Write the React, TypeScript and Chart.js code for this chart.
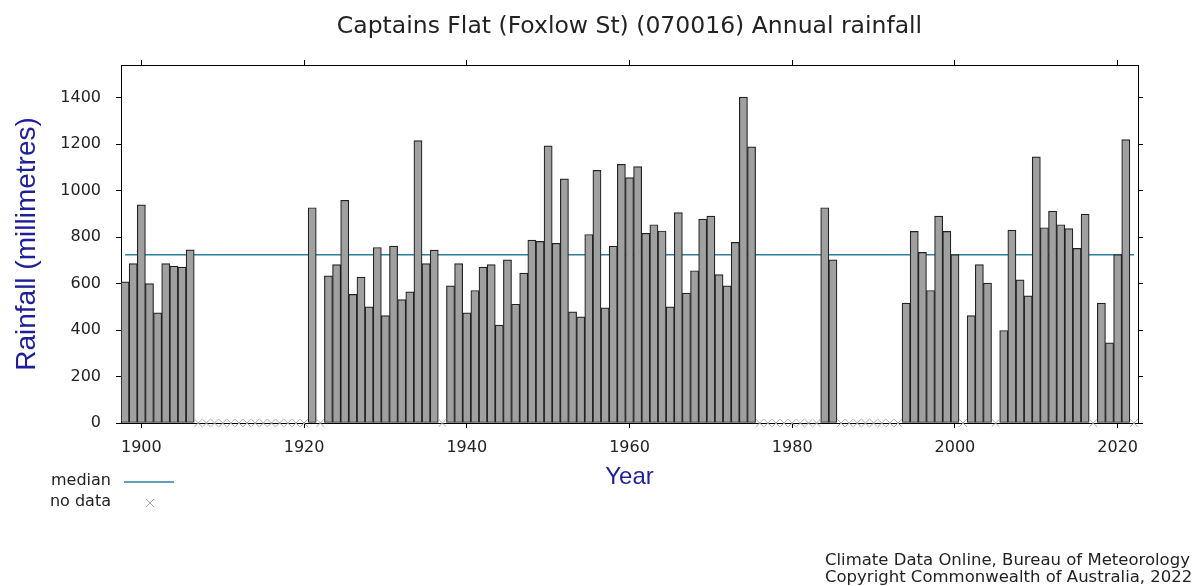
import React, { useEffect, useRef } from "react";
import { Chart, registerables } from "chart.js";

Chart.register(...registerables);

const years: number[] = Array.from({ length: 125 }, (_, i) => 1898 + i);

const rainfall: (number | null)[] = [
  607, 686, 938, 600, 474, 686, 675, 671, 745,
  null, null, null, null, null, null, null, null, null, null, null, null, null, null,
  926, null,
  633, 681, 958, 553, 628, 500, 755, 462, 761, 531, 564, 1215, 686, 744,
  null,
  590, 686, 474, 570, 671, 681, 421, 702, 511, 645, 787, 781, 1192, 773, 1050, 478, 457, 811, 1087, 495,
  761, 1113, 1056, 1103, 816, 853, 826, 500, 905, 559, 655, 877, 890, 638, 590, 777, 1402, 1188,
  null, null, null, null, null, null, null, null,
  926, 702,
  null, null, null, null, null, null, null, null,
  516, 824, 734, 570, 890, 824, 724,
  null,
  462, 681, 602,
  null,
  398, 830, 616, 547, 1145, 840, 911, 853, 836, 751, 899,
  null,
  516, 345, 724, 1219,
  null,
];

const MEDIAN = 724;
const xTicks: number[] = [1900, 1920, 1940, 1960, 1980, 2000, 2020];
const yTicks: number[] = [0, 200, 400, 600, 800, 1000, 1200, 1400];

const X_MIN = 1897.5;
const X_MAX = 2022.5;
const Y_MAX = 1540;

const MEDIAN_COLOR = "#2f7f9f";
const NODATA_COLOR = "#a8a8a8";
const TEXT = "#222";
const NAVY = "#1f1f9a";
const FONT = "'DejaVu Sans', Verdana, sans-serif";

const extras = {
  id: "extras",
  afterDraw(chart: any) {
    const ctx = chart.ctx;
    ctx.save();
    ctx.font = `16px ${FONT}`;
    ctx.fillStyle = TEXT;
    ctx.textAlign = "right";
    ctx.textBaseline = "middle";
    ctx.fillText("median", 111, 481);
    ctx.fillText("no data", 111, 502);
    ctx.strokeStyle = MEDIAN_COLOR;
    ctx.lineWidth = 1.5;
    ctx.beginPath();
    ctx.moveTo(124, 482);
    ctx.lineTo(174, 482);
    ctx.stroke();
    ctx.strokeStyle = NODATA_COLOR;
    ctx.lineWidth = 1;
    ctx.beginPath();
    ctx.moveTo(146, 499);
    ctx.lineTo(154, 507);
    ctx.moveTo(154, 499);
    ctx.lineTo(146, 507);
    ctx.stroke();
    ctx.font = `16.5px ${FONT}`;
    ctx.textAlign = "left";
    ctx.fillText("Climate Data Online, Bureau of Meteorology", 825, 561);
    ctx.fillText("Copyright Commonwealth of Australia, 2022", 825, 578);
    ctx.restore();
  },
};

export default function App() {
  const ref = useRef<HTMLCanvasElement | null>(null);

  useEffect(() => {
    document.body.style.margin = "0";
    const canvas = ref.current;
    if (!canvas) return;

    const barData = years
      .map((y, i) => ({ x: y, y: rainfall[i] }))
      .filter((d) => d.y !== null);
    const noData = years
      .filter((_, i) => rainfall[i] === null)
      .map((y) => ({ x: y, y: 0 }));
    const medianData = [
      { x: years[0], y: MEDIAN },
      { x: years[years.length - 1], y: MEDIAN },
    ];

    const setX = (scale: any) => {
      scale.ticks = xTicks.map((v) => ({ value: v }));
    };
    const setY = (scale: any) => {
      scale.ticks = yTicks.map((v) => ({ value: v }));
    };
    const gridCommon = {
      drawOnChartArea: false,
      drawTicks: true,
      tickLength: 5,
      color: "#000",
      lineWidth: 1,
      offset: false,
    };
    const border = { display: true, color: "#000", width: 1 };

    const chart = new Chart(canvas, {
      type: "bar",
      data: {
        datasets: [
          {
            type: "line",
            label: "median",
            data: medianData,
            borderColor: MEDIAN_COLOR,
            borderWidth: 1.5,
            pointRadius: 0,
            order: 3,
          } as any,
          {
            type: "bar",
            label: "rainfall",
            data: barData,
            backgroundColor: "#a0a0a0",
            borderColor: "#222",
            borderWidth: 1.2,
            borderSkipped: false,
            barPercentage: 1,
            categoryPercentage: 1,
            order: 2,
          } as any,
          {
            type: "scatter",
            label: "no data",
            data: noData,
            pointStyle: "crossRot",
            pointRadius: 5.5,
            borderColor: NODATA_COLOR,
            backgroundColor: NODATA_COLOR,
            borderWidth: 1,
            showLine: false,
            clip: false,
            order: 1,
          } as any,
        ],
      },
      options: {
        responsive: false,
        animation: false,
        devicePixelRatio: 1,
        layout: { padding: 0 },
        plugins: {
          legend: { display: false },
          tooltip: { enabled: false },
          title: {
            display: true,
            fullSize: false,
            text: "Captains Flat (Foxlow St) (070016) Annual rainfall",
            color: TEXT,
            font: { family: FONT, size: 23.5, weight: "normal" },
            padding: { top: 13, bottom: 0 },
          },
        },
        scales: {
          x: {
            type: "linear",
            position: "bottom",
            min: X_MIN,
            max: X_MAX,
            offset: false,
            afterBuildTicks: setX,
            afterFit: (s: any) => {
              s.height = 163;
            },
            grid: gridCommon,
            border,
            ticks: {
              color: TEXT,
              font: { family: FONT, size: 16 },
              padding: 10,
              maxRotation: 0,
              autoSkip: false,
              callback: (v: any) => String(v),
            },
            title: {
              display: true,
              text: "Year",
              color: NAVY,
              font: { family: "'Liberation Sans', Arial, sans-serif", size: 24 },
              padding: { top: 0, bottom: 94 },
            },
          },
          x2: {
            type: "linear",
            position: "top",
            min: X_MIN,
            max: X_MAX,
            offset: false,
            afterBuildTicks: setX,
            afterFit: (s: any) => {
              s.height = 65 - 13 - 23.5 * 1.2;
            },
            grid: gridCommon,
            border,
            ticks: { display: false },
          },
          y: {
            type: "linear",
            position: "left",
            min: 0,
            max: Y_MAX,
            afterBuildTicks: setY,
            afterFit: (s: any) => {
              s.width = 121;
            },
            grid: gridCommon,
            border,
            ticks: {
              color: TEXT,
              font: { family: FONT, size: 16 },
              padding: 15,
              callback: (v: any) => String(v),
            },
            title: {
              display: true,
              text: "Rainfall (millimetres)",
              color: NAVY,
              font: { family: "'Liberation Sans', Arial, sans-serif", size: 28 },
              padding: { top: 10, bottom: 0 },
            },
          },
          y2: {
            type: "linear",
            position: "right",
            min: 0,
            max: Y_MAX,
            afterBuildTicks: setY,
            afterFit: (s: any) => {
              s.width = 57;
            },
            grid: gridCommon,
            border,
            ticks: { display: false },
          },
        },
      } as any,
      plugins: [extras],
    });

    return () => chart.destroy();
  }, []);

  return (
    <div style={{ width: 1195, height: 586, background: "#fff" }}>
      <canvas ref={ref} width={1195} height={586} />
    </div>
  );
}
